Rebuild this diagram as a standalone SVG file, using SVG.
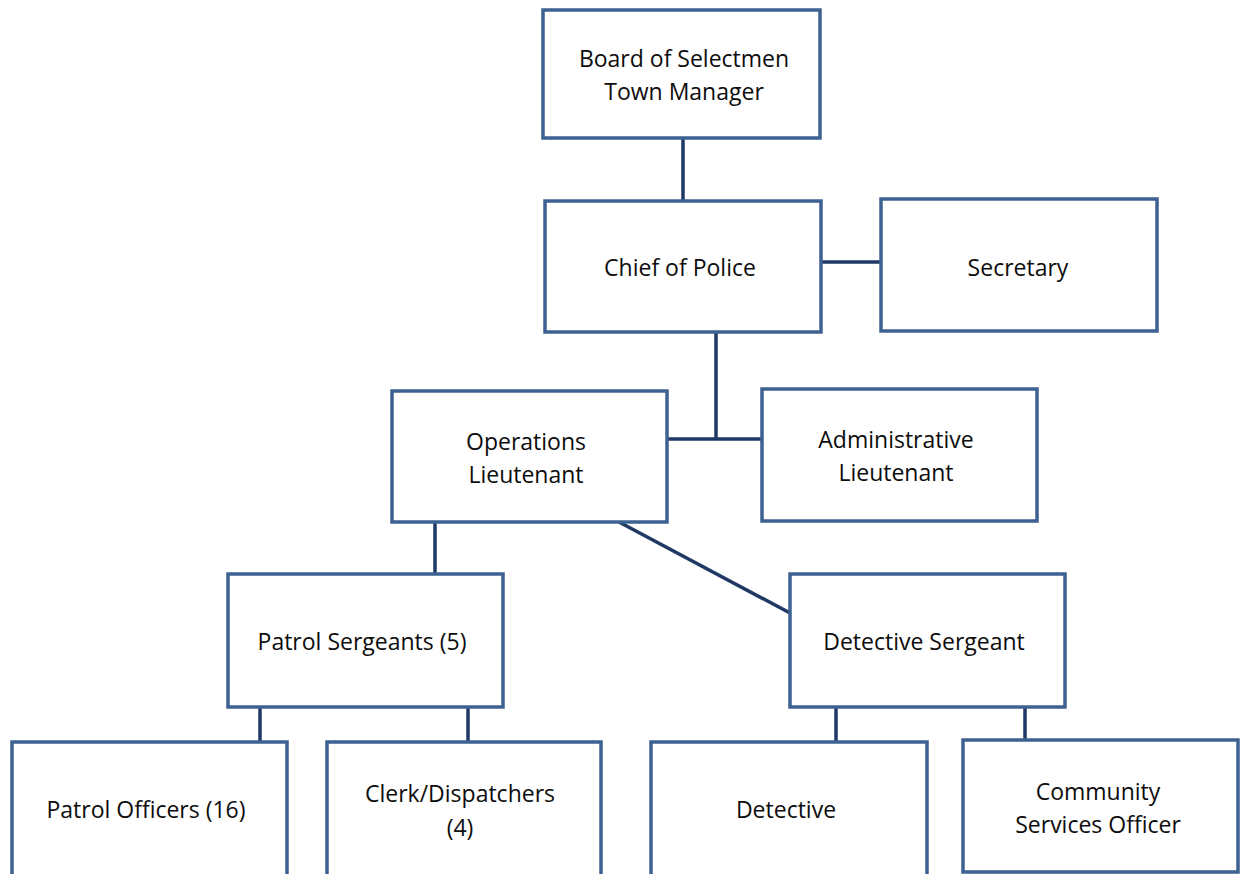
<svg xmlns="http://www.w3.org/2000/svg" width="1241" height="874" viewBox="0 0 1241 874">
<style>
.box{fill:#fff;stroke:#3d6191;stroke-width:3.5}
.c{stroke:#1f3864;stroke-width:3.5;fill:none}
text{font-family:"Open Sans","Liberation Sans",sans-serif;font-size:23px;fill:#0d0d0d;text-anchor:middle}
</style>
<rect width="1241" height="874" fill="#fff"/>
<g id="connectors">
<line class="c" x1="683" y1="138" x2="683" y2="200"/>
<line class="c" x1="821" y1="262" x2="881" y2="262"/>
<line class="c" x1="716" y1="332" x2="716" y2="439"/>
<line class="c" x1="667" y1="439" x2="761" y2="439"/>
<line class="c" x1="435" y1="522" x2="435" y2="574"/>
<line class="c" x1="619" y1="522" x2="790" y2="613"/>
<line class="c" x1="260" y1="707" x2="260" y2="742"/>
<line class="c" x1="468" y1="707" x2="468" y2="742"/>
<line class="c" x1="836" y1="707" x2="836" y2="742"/>
<line class="c" x1="1025" y1="707" x2="1025" y2="740"/>
</g>
<g id="board"><rect class="box" x="543" y="10" width="277" height="128"/><text x="684" y="67">Board of Selectmen</text><text x="684" y="100">Town Manager</text></g>
<g id="chief"><rect class="box" x="545" y="201" width="276" height="131"/><text x="680" y="276">Chief of Police</text></g>
<g id="secretary"><rect class="box" x="881" y="199" width="276" height="132"/><text x="1018" y="276">Secretary</text></g>
<g id="ops"><rect class="box" x="392" y="391" width="275" height="131"/><text x="526" y="450">Operations</text><text x="526" y="483">Lieutenant</text></g>
<g id="admin"><rect class="box" x="762" y="389" width="275" height="132"/><text x="896" y="448">Administrative</text><text x="896" y="481">Lieutenant</text></g>
<g id="patrolsgt"><rect class="box" x="228" y="574" width="275" height="133"/><text x="362" y="650">Patrol Sergeants (5)</text></g>
<g id="detsgt"><rect class="box" x="790" y="574" width="275" height="133"/><text x="924" y="650">Detective Sergeant</text></g>
<g id="patrolofficers"><rect class="box" x="12" y="742" width="275" height="136"/><text x="146" y="818">Patrol Officers (16)</text></g>
<g id="clerk"><rect class="box" x="327" y="742" width="274" height="136"/><text x="460" y="802">Clerk/Dispatchers</text><text x="460" y="836">(4)</text></g>
<g id="detective"><rect class="box" x="651" y="742" width="276" height="136"/><text x="786" y="818">Detective</text></g>
<g id="community"><rect class="box" x="963" y="740" width="275" height="132"/><text x="1098" y="800">Community</text><text x="1098" y="833">Services Officer</text></g>
</svg>
